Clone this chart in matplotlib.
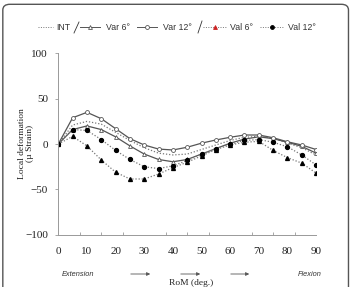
import matplotlib
matplotlib.use("Agg")
import matplotlib.pyplot as plt
from matplotlib.patches import FancyBboxPatch, FancyArrowPatch
from matplotlib.lines import Line2D
import numpy as np

rom = [0, 5, 10, 15, 20, 25, 30, 35, 40, 45, 50, 55, 60, 65, 70, 75, 80, 85, 90]
int_vals = [0, 21, 25, 22, 13, 4, -4, -10, -12, -11, -6, -1, 4, 7.5, 8.5, 6.5, 1, -4, -12]
var6 = [0, 16, 20, 16, 8, -2, -11, -17, -19.5, -17, -11, -5, 1, 5.5, 8, 6, 2, -2.5, -10]
var12 = [0, 29, 35, 28, 17, 6, -1, -5.5, -6.5, -3.5, 1, 4.5, 7.5, 10, 10, 7, 2.5, -1, -6]
val6 = [0, 8.5, -2, -17.5, -31, -38.5, -38.5, -33, -26, -20, -13, -6, -1, 2, 3, -7, -15, -21, -32]
val12 = [0, 16, 15, 5, -7, -17, -25, -27, -24, -18, -11, -5, 0, 4, 5, 2, -3, -12, -23]

x_ticks = [0, 10, 20, 30, 40, 50, 60, 70, 80, 90]
y_ticks = [-100, -50, 0, 50, 100]

fig = plt.figure(figsize=(3.52, 2.87), dpi=100)
ax = fig.add_axes([0.1656, 0.182, 0.7324, 0.632])

gray = "#555555"
lgray = "#777777"
dot = (0, (1, 1.5))
ax.plot(rom, int_vals, linestyle=dot, color=lgray, lw=0.9)
ax.plot(rom, var6, '-', color=gray, lw=0.9, marker='^', ms=2.8, mfc='white', mec=gray, mew=0.6)
ax.plot(rom, var12, '-', color=gray, lw=0.9, marker='o', ms=2.8, mfc='white', mec=gray, mew=0.6)
ax.plot(rom, val6, linestyle=dot, color=lgray, lw=0.9, marker='^', ms=2.8, mfc='black', mec='black')
ax.plot(rom, val12, linestyle=dot, color=lgray, lw=0.9, marker='o', ms=2.8, mfc='black', mec='black')

ax.set_xlim(0, 90)
ax.set_ylim(-100, 100)
ax.set_xticks(x_ticks)
ax.set_xticks(np.arange(0, 90.1, 7.5), minor=True)
ax.set_yticks(y_ticks)
for s in ['top', 'right']:
    ax.spines[s].set_visible(False)
for s in ['left', 'bottom']:
    ax.spines[s].set_color('#999999')
    ax.spines[s].set_linewidth(0.7)
ax.tick_params(axis='y', colors='#999999', length=2.5, width=0.6, labelcolor='#222222',
               labelsize=8, pad=5)
ax.tick_params(axis='x', which='major', length=0, labelcolor='#222222', labelsize=8, pad=9)
ax.tick_params(axis='x', which='minor', direction='in', length=2.5, width=0.6, colors='#999999')
for lab in ax.get_xticklabels() + ax.get_yticklabels():
    lab.set_family('Liberation Serif')

fig.text(0.073, 0.5, "Local deformation\n(\u00b5 Strain)", rotation=90, ha='center', va='center',
         family='Liberation Serif', fontsize=6.8, color='#222222', linespacing=1.0)
fig.text(0.543, 0.014, "RoM (deg.)", ha='center', va='center', family='Liberation Serif',
         fontsize=6.8, color='#222222')

# Extension / Flexion annotations
ay = 1 - 274 / 287
fig.text(78 / 352, ay, "Extension", ha='center', va='center', family='Liberation Sans',
         style='italic', fontsize=5.3, color='#333333')
fig.text(310 / 352, ay, "Flexion", ha='center', va='center', family='Liberation Sans',
         style='italic', fontsize=5.3, color='#333333')
for x0, x1 in [(128, 153), (178, 203), (228, 252)]:
    fig.add_artist(FancyArrowPatch(
        (x0 / 352, ay), (x1 / 352, ay), transform=fig.transFigure,
        arrowstyle='-|>', mutation_scale=5, color='#555555', lw=0.6))

# Legend
ly = 1 - 27 / 287
def leg_line(xa, xb, ls, marker, mfc, mec, color):
    fig.add_artist(Line2D([xa / 352, xb / 352], [ly, ly], transform=fig.transFigure,
                          linestyle=ls, color=color, lw=0.7))
    if marker:
        fig.add_artist(Line2D([(xa + xb) / 2 / 352], [ly], transform=fig.transFigure,
                              linestyle='none', marker=marker, ms=2.8, mfc=mfc, mec=mec, mew=0.6))

fs_leg = 6.3
leg_line(38, 53, dot, None, None, None, lgray)
fig.text(56 / 352, ly, "INT", ha='left', va='center', family='Liberation Sans', fontsize=fs_leg, color='#333333')
fig.add_artist(Line2D([74 / 352, 79 / 352], [1 - 33 / 287, 1 - 22 / 287], transform=fig.transFigure, color='#333333', lw=0.6))
leg_line(80, 100, '-', '^', 'white', gray, gray)
fig.text(106 / 352, ly, "Var 6\u00b0", ha='left', va='center', family='Liberation Sans', fontsize=fs_leg, color='#333333')
leg_line(137, 157, '-', 'o', 'white', gray, gray)
fig.text(163 / 352, ly, "Var 12\u00b0", ha='left', va='center', family='Liberation Sans', fontsize=fs_leg, color='#333333')
fig.add_artist(Line2D([198 / 352, 202 / 352], [1 - 33 / 287, 1 - 21 / 287], transform=fig.transFigure, color='#333333', lw=0.6))
leg_line(203, 227, dot, '^', '#cc2222', '#cc2222', lgray)
fig.text(230 / 352, ly, "Val 6\u00b0", ha='left', va='center', family='Liberation Sans', fontsize=fs_leg, color='#333333')
leg_line(260, 284, dot, 'o', 'black', 'black', lgray)
fig.text(288 / 352, ly, "Val 12\u00b0", ha='left', va='center', family='Liberation Sans', fontsize=fs_leg, color='#333333')

# Rounded frame
frame = FancyBboxPatch((0.008, -0.05), 0.982, 1.035, boxstyle="round,pad=0,rounding_size=0.02",
                       transform=fig.transFigure, fill=False, edgecolor='#555555', lw=1.0)
fig.add_artist(frame)

fig.savefig("out.png", dpi=100)
